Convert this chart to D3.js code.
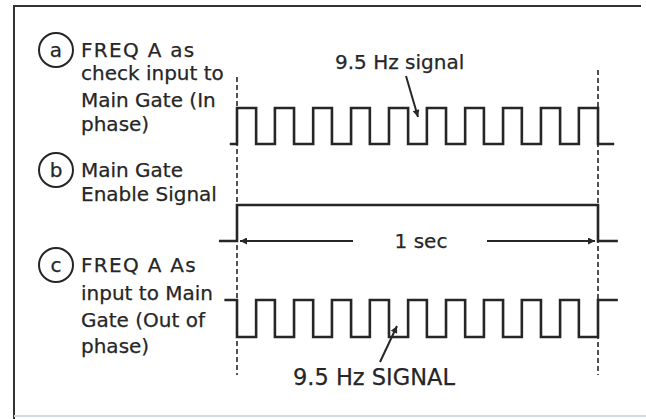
<!DOCTYPE html>
<html>
<head>
<meta charset="utf-8">
<script src="https://cdn.jsdelivr.net/npm/d3@7"></script>
<style>
  html, body { margin: 0; padding: 0; background: #ffffff; }
  svg { display: block; }
  text { font-family: "DejaVu Sans", sans-serif; fill: #262626; stroke: #262626; stroke-width: 0.25px; }
</style>
</head>
<body>
<svg id="chart" width="646" height="419"></svg>
<script>
// ---------------- data ----------------
// Time axis: 0 .. 1 second (the Main Gate window)
const timeDomain = [0, 1];

// Signal a: FREQ A in phase (transition times in s, level after transition)
const signalATimes  = [-0.02, 0, 0.053, 0.105, 0.158, 0.211, 0.263, 0.316, 0.368, 0.421, 0.474,
                       0.526, 0.579, 0.632, 0.684, 0.737, 0.789, 0.842, 0.895, 0.947, 1.0, 1.045];
const signalALevels = [0, 1, 0, 1, 0, 1, 0, 1, 0, 1, 0,
                       1, 0, 1, 0, 1, 0, 1, 0, 1, 0, 0];

// Signal b: Main Gate enable
const signalBTimes  = [-0.05, 0, 1.0, 1.055];
const signalBLevels = [0, 1, 0, 0];

// Signal c: FREQ A out of phase
const signalCTimes  = [-0.035, 0, 0.053, 0.105, 0.158, 0.211, 0.263, 0.316, 0.368, 0.421, 0.474,
                       0.526, 0.579, 0.632, 0.684, 0.737, 0.789, 0.842, 0.895, 0.947, 1.0, 1.055];
const signalCLevels = [1, 0, 1, 0, 1, 0, 1, 0, 1, 0, 1,
                       0, 1, 0, 1, 0, 1, 0, 1, 0, 1, 1];

// Labels
const signalKeys   = ["a", "b", "c"];
const labelA = ["FREQ A as", "check input to", "Main Gate (In", "phase)"];
const labelB = ["Main Gate", "Enable Signal"];
const labelC = ["FREQ A As", "input to Main", "Gate (Out of", "phase)"];
const annotTop    = "9.5 Hz signal";
const annotMid    = "1 sec";
const annotBottom = "9.5 Hz SIGNAL";

// ---------------- layout ----------------
const svg = d3.select("#chart");
const W = 646, H = 419;
const ink = "#262626";

const x = d3.scaleLinear().domain(timeDomain).range([237, 598]);
// each signal row: low / high pixel positions
const rows = {
  a: d3.scaleLinear().domain([0, 1]).range([144, 108]),
  b: d3.scaleLinear().domain([0, 1]).range([241, 205]),
  c: d3.scaleLinear().domain([0, 1]).range([337, 300])
};

// frame
svg.append("rect").attr("x", 0).attr("y", 0).attr("width", W).attr("height", H).attr("fill", "#fff");
svg.append("line").attr("x1", 14).attr("y1", 6).attr("x2", 641).attr("y2", 6)
  .attr("stroke", "#333").attr("stroke-width", 2);
svg.append("line").attr("x1", 14).attr("y1", 5).attr("x2", 14).attr("y2", 419)
  .attr("stroke", "#333").attr("stroke-width", 2);
svg.append("line").attr("x1", 14).attr("y1", 416).attr("x2", 646).attr("y2", 416)
  .attr("stroke", "#d3dae0").attr("stroke-width", 2);

// dashed reference lines at t = 0 and t = 1
svg.append("line").attr("x1", x(0)).attr("x2", x(0)).attr("y1", 77).attr("y2", 375)
  .attr("stroke", ink).attr("stroke-width", 1.6).attr("stroke-dasharray", "5,3");
svg.append("line").attr("x1", x(1)).attr("x2", x(1)).attr("y1", 70).attr("y2", 375)
  .attr("stroke", ink).attr("stroke-width", 1.6).attr("stroke-dasharray", "5,3");

// waveforms
const signals = [
  { key: "a", t: signalATimes, v: signalALevels },
  { key: "b", t: signalBTimes, v: signalBLevels },
  { key: "c", t: signalCTimes, v: signalCLevels }
];
signals.forEach(s => {
  const pts = s.t.map((t, i) => [t, s.v[i]]);
  const line = d3.line()
    .x(d => x(d[0]))
    .y(d => rows[s.key](d[1]))
    .curve(d3.curveStepAfter);
  svg.append("path").attr("d", line(pts))
    .attr("fill", "none").attr("stroke", ink).attr("stroke-width", 2.6)
    .attr("stroke-linejoin", "miter");
});

// arrowhead marker
const defs = svg.append("defs");
defs.append("marker").attr("id", "ah").attr("viewBox", "0 0 10 10")
  .attr("refX", 10).attr("refY", 5).attr("markerWidth", 12).attr("markerHeight", 7)
  .attr("markerUnits", "userSpaceOnUse").attr("orient", "auto")
  .append("path").attr("d", "M0,0 L10,5 L0,10 Z").attr("fill", ink);

// circled keys + labels
const fs = 20;
const labelBlocks = [
  { key: "a", lines: labelA, cy: 50, base: [57, 80, 107, 131], spaced: true },
  { key: "b", lines: labelB, cy: 170, base: [177, 201], spaced: false },
  { key: "c", lines: labelC, cy: 265, base: [272, 300, 327, 353], spaced: true }
];
labelBlocks.forEach(b => {
  svg.append("circle").attr("cx", 56).attr("cy", b.cy).attr("r", 17)
    .attr("fill", "none").attr("stroke", ink).attr("stroke-width", 2);
  svg.append("text").attr("x", 56).attr("y", b.cy + 7).attr("text-anchor", "middle")
    .style("font-size", fs + "px").text(b.key);
  b.lines.forEach((ln, i) => {
    svg.append("text").attr("x", 81).attr("y", b.base[i])
      .style("font-size", fs + "px")
      .style("letter-spacing", (i === 0 && b.spaced) ? "1.3px" : "0px")
      .text(ln);
  });
});

// top annotation
svg.append("text").attr("x", 335).attr("y", 69).style("font-size", fs + "px").text(annotTop);
svg.append("line").attr("x1", 406).attr("y1", 76).attr("x2", 418).attr("y2", 117)
  .attr("stroke", ink).attr("stroke-width", 2).attr("marker-end", "url(#ah)");

// 1 sec dimension
const dimY = rows.b(0);
svg.append("line").attr("x1", 353).attr("y1", dimY).attr("x2", x(0) + 3).attr("y2", dimY)
  .attr("stroke", ink).attr("stroke-width", 2).attr("marker-end", "url(#ah)");
svg.append("line").attr("x1", 487).attr("y1", dimY).attr("x2", x(1) - 3).attr("y2", dimY)
  .attr("stroke", ink).attr("stroke-width", 2).attr("marker-end", "url(#ah)");
svg.append("text").attr("x", 421).attr("y", dimY + 7).attr("text-anchor", "middle")
  .style("font-size", fs + "px").text(annotMid);

// bottom annotation
svg.append("text").attr("x", 293).attr("y", 385).style("font-size", "22.5px").text(annotBottom);
svg.append("line").attr("x1", 380).attr("y1", 362).attr("x2", 397).attr("y2", 326)
  .attr("stroke", ink).attr("stroke-width", 2).attr("marker-end", "url(#ah)");
</script>
</body>
</html>
